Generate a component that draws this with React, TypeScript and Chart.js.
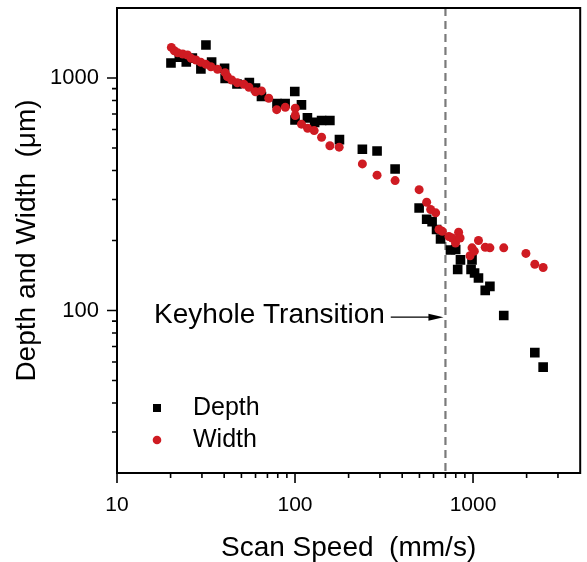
import React, { useEffect, useRef } from 'react';
import { Chart, registerables } from 'chart.js';

Chart.register(...registerables);

// Depth series (scan speed mm/s, depth µm)
const depthSpeed = [20.1, 22.4, 24.5, 26.5, 29.6, 31.6, 34.0, 40.2, 40.5, 47.2, 55.4, 60.0, 64.8, 79.2, 88.0, 99.7, 100, 108.7, 117.4, 128.9, 141, 157, 177.7, 239, 289, 365, 498, 549, 589, 624, 657, 747, 799, 820, 850, 975, 987, 1020, 1073, 1171, 1244, 1488, 2224, 2477];
const depthValue = [1160, 1230, 1171, 1218, 1093, 1386, 1171, 1100, 995, 942, 956, 906, 833, 777, 777, 875, 660, 766, 674, 644, 656, 656, 543, 494, 485, 406, 276, 247, 241, 223, 203, 182, 183, 150, 165, 150, 165, 145, 138, 122, 127, 95.2, 65.9, 57.1];

// Width series (scan speed mm/s, width µm)
const widthSpeed = [20.2, 21.0, 21.9, 23.4, 24.9, 26.1, 27.8, 29.6, 31.6, 33.7, 36.7, 40.5, 41.7, 44.1, 47.4, 51.6, 55.1, 60.0, 64.8, 71.2, 78.9, 88.2, 100.3, 100.3, 108.7, 117.7, 128.1, 141, 157, 177, 239, 289, 365, 498, 549, 578, 617, 644, 672, 732, 764, 797, 830, 846, 962, 987, 1017, 1073, 1171, 1244, 1488, 1982, 2224, 2477];
const widthValue = [1354, 1310, 1284, 1268, 1255, 1215, 1195, 1168, 1145, 1118, 1090, 1054, 1013, 980, 954, 940, 912, 873, 880, 818, 731, 748, 741, 690, 633, 608, 594, 556, 511, 504, 427, 382, 362, 331, 292, 272, 263, 223, 219, 208, 205, 195, 217, 205, 172, 186, 180, 200, 187, 186, 186, 176, 158, 153];

const xTickValues = [10, 20, 30, 40, 50, 60, 70, 80, 90, 100, 200, 300, 400, 500, 600, 700, 800, 900, 1000, 2000, 3000];
const yTickValues = [30, 40, 50, 60, 70, 80, 90, 100, 200, 300, 400, 500, 600, 700, 800, 900, 1000];
const xLabelValues = [10, 100, 1000];
const yLabelValues = [100, 1000];

const transitionSpeed = 700;
const transitionLabel = 'Keyhole Transition';
const labelRightSpeed = 320;
const arrowStartSpeed = 345;
const labelDepth = 95;

const seriesNames = ['Depth', 'Width'];
const depthColor = '#000000';
const widthColor = '#cf1b22';

const FONT = '"Liberation Sans", Arial, sans-serif';

const decorPlugin = {
  id: 'decor',
  beforeDatasetsDraw(chart: any) {
    const { ctx, chartArea: a, scales } = chart;
    const px = scales.x.getPixelForValue(transitionSpeed);
    ctx.save();
    ctx.strokeStyle = '#7a7a7a';
    ctx.lineWidth = 2.2;
    ctx.setLineDash([8, 5]);
    ctx.beginPath();
    ctx.moveTo(px, a.top);
    ctx.lineTo(px, a.bottom);
    ctx.stroke();
    ctx.restore();
  },
  afterDraw(chart: any) {
    const { ctx, chartArea: a, scales } = chart;
    const x = scales.x;
    const y = scales.y;
    ctx.save();
    // frame
    ctx.strokeStyle = '#000';
    ctx.lineWidth = 2;
    ctx.setLineDash([]);
    ctx.strokeRect(a.left, a.top, a.right - a.left, a.bottom - a.top);
    // ticks
    ctx.lineWidth = 1.6;
    ctx.beginPath();
    x.ticks.forEach((t: any) => {
      const p = x.getPixelForValue(t.value);
      const len = xLabelValues.includes(t.value) ? 10 : 5;
      ctx.moveTo(p, a.bottom);
      ctx.lineTo(p, a.bottom + len);
    });
    y.ticks.forEach((t: any) => {
      const p = y.getPixelForValue(t.value);
      const len = yLabelValues.includes(t.value) ? 10 : 5;
      ctx.moveTo(a.left, p);
      ctx.lineTo(a.left - len, p);
    });
    ctx.stroke();

    // annotation text + arrow
    const ty = y.getPixelForValue(labelDepth);
    ctx.fillStyle = '#000';
    ctx.font = `28px ${FONT}`;
    ctx.textAlign = 'right';
    ctx.textBaseline = 'middle';
    ctx.fillText(transitionLabel, x.getPixelForValue(labelRightSpeed), ty);
    const ax0 = x.getPixelForValue(arrowStartSpeed);
    const ax1 = x.getPixelForValue(transitionSpeed) - 2;
    const ay = ty + 1.5;
    ctx.lineWidth = 1.4;
    ctx.beginPath();
    ctx.moveTo(ax0, ay);
    ctx.lineTo(ax1 - 12, ay);
    ctx.stroke();
    ctx.beginPath();
    ctx.moveTo(ax1, ay);
    ctx.lineTo(ax1 - 15, ay - 3.5);
    ctx.lineTo(ax1 - 15, ay + 3.5);
    ctx.closePath();
    ctx.fill();

    // legend
    const lx = a.left + 40;
    const tx = a.left + 76;
    const r1 = a.bottom - 65;
    const r2 = a.bottom - 33;
    ctx.fillStyle = depthColor;
    ctx.fillRect(lx - 4, r1 - 4, 8, 8);
    ctx.fillStyle = widthColor;
    ctx.beginPath();
    ctx.arc(lx, r2, 4.3, 0, Math.PI * 2);
    ctx.fill();
    ctx.fillStyle = '#000';
    ctx.font = `25px ${FONT}`;
    ctx.textAlign = 'left';
    ctx.fillText(seriesNames[0], tx, r1);
    ctx.fillText(seriesNames[1], tx, r2);
    ctx.restore();
  },
};

export default function App() {
  const ref = useRef<HTMLCanvasElement | null>(null);

  useEffect(() => {
    if (!ref.current) return;
    const depthData = depthSpeed.map((s, i) => ({ x: s, y: depthValue[i] }));
    const widthData = widthSpeed.map((s, i) => ({ x: s, y: widthValue[i] }));
    const chart = new Chart(ref.current, {
      type: 'scatter',
      data: {
        datasets: [
          {
            label: seriesNames[0],
            data: depthData,
            pointStyle: 'rect',
            pointRadius: 6.8,
            pointBorderWidth: 0,
            backgroundColor: depthColor,
            borderColor: depthColor,
            order: 2,
          },
          {
            label: seriesNames[1],
            data: widthData,
            pointStyle: 'circle',
            pointRadius: 4.5,
            pointBorderWidth: 0,
            backgroundColor: widthColor,
            borderColor: widthColor,
            order: 1,
          },
        ],
      },
      options: {
        animation: false,
        responsive: false,
        devicePixelRatio: 1,
        layout: { padding: { top: 8, right: 4, left: 0, bottom: 0 } },
        plugins: {
          legend: { display: false },
          tooltip: { enabled: false },
        },
        scales: {
          x: {
            type: 'logarithmic',
            min: 10,
            max: 4000,
            afterBuildTicks: (s: any) => {
              s.ticks = xTickValues.map((v) => ({ value: v }));
            },
            afterFit: (s: any) => {
              s.height = 89;
              s.paddingLeft = 0;
              s.paddingRight = 0;
            },
            grid: { display: false, drawTicks: false, tickLength: 0 },
            border: { display: false },
            ticks: {
              autoSkip: false,
              maxRotation: 0,
              padding: 20,
              color: '#000',
              font: { family: FONT, size: 21 },
              callback: (v: any) => (xLabelValues.includes(Number(v)) ? String(v) : ''),
            },
            title: {
              display: true,
              text: 'Scan Speed  (mm/s)',
              color: '#000',
              font: { family: FONT, size: 28 },
              padding: { top: 0, bottom: -3 },
            },
          },
          y: {
            type: 'logarithmic',
            min: 20,
            max: 2000,
            afterBuildTicks: (s: any) => {
              s.ticks = yTickValues.map((v) => ({ value: v }));
            },
            afterFit: (s: any) => {
              s.width = 117;
              s.paddingTop = 0;
              s.paddingBottom = 0;
            },
            grid: { display: false, drawTicks: false, tickLength: 0 },
            border: { display: false },
            ticks: {
              autoSkip: false,
              padding: 18,
              color: '#000',
              font: { family: FONT, size: 22 },
              callback: (v: any) => (yLabelValues.includes(Number(v)) ? String(v) : ''),
            },
            title: {
              display: true,
              text: 'Depth and Width  (\u03bcm)',
              color: '#000',
              font: { family: FONT, size: 28 },
              padding: { top: 10, bottom: 0 },
            },
          },
        },
      },
      plugins: [decorPlugin],
    });
    return () => chart.destroy();
  }, []);

  return (
    <div style={{ position: 'fixed', left: 0, top: 0, width: 587, height: 562, background: '#fff' }}>
      <canvas ref={ref} width={587} height={562} />
    </div>
  );
}
